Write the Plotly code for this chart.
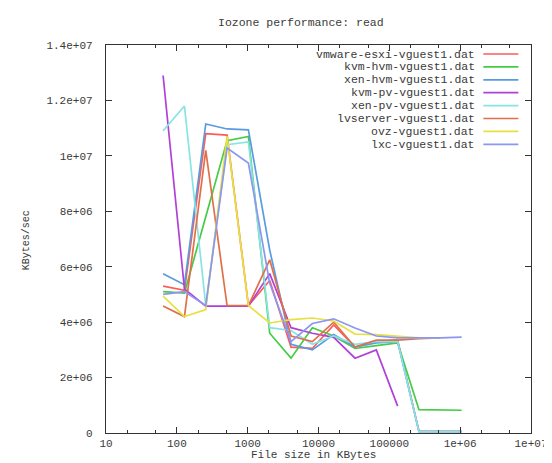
import plotly.graph_objects as go

# ---------------- data ----------------
file_size_kb = [64, 128, 256, 512, 1024, 2048, 4096, 8192, 16384, 32768,
                65536, 131072, 262144, 524288, 1048576]

series_names = ["vmware-esxi-vguest1.dat", "kvm-hvm-vguest1.dat", "xen-hvm-vguest1.dat",
                "kvm-pv-vguest1.dat", "xen-pv-vguest1.dat", "lvserver-vguest1.dat",
                "ovz-vguest1.dat", "lxc-vguest1.dat"]

vmware_esxi = [5.30e6, 5.15e6, 10.80e6, 10.75e6, 4.60e6, 5.50e6, 3.10e6, 3.05e6, 3.90e6, 3.10e6,
               3.30e6, 3.35e6, 0.06e6, 0.06e6, 0.06e6]
kvm_hvm = [5.10e6, 5.05e6, 7.80e6, 10.55e6, 10.70e6, 3.60e6, 2.70e6, 3.80e6, 3.50e6, 3.05e6,
           3.15e6, 3.25e6, 0.84e6, 0.84e6, 0.82e6]
xen_hvm = [5.75e6, 5.35e6, 11.15e6, 10.97e6, 10.94e6, 6.60e6, 3.20e6, 3.00e6, 3.55e6, 3.10e6,
           3.25e6, 3.30e6, 0.05e6, 0.05e6, 0.05e6]
kvm_pv = [12.90e6, 5.20e6, 4.58e6, 4.58e6, 4.58e6, 5.75e6, 3.80e6, 3.60e6, 3.45e6, 2.70e6,
          3.00e6, 0.97e6, None, None, None]
xen_pv = [10.90e6, 11.80e6, 4.60e6, 10.40e6, 10.50e6, 3.80e6, 3.70e6, 3.20e6, 3.50e6, 3.20e6,
          3.30e6, 3.30e6, 0.05e6, 0.05e6, 0.05e6]
lvserver = [4.58e6, 4.20e6, 10.20e6, 4.60e6, 4.60e6, 6.25e6, 3.50e6, 3.30e6, 4.00e6, 3.10e6,
            3.35e6, 3.35e6, 3.40e6, 3.43e6, None]
ovz = [4.94e6, 4.20e6, 4.45e6, 10.70e6, 4.60e6, 3.97e6, 4.09e6, 4.15e6, 4.04e6, 3.57e6,
       3.55e6, 3.50e6, 3.43e6, 3.43e6, None]
lxc = [5.00e6, 5.10e6, 4.60e6, 10.28e6, 9.74e6, 5.40e6, 3.30e6, 3.95e6, 4.12e6, 3.79e6,
       3.50e6, 3.43e6, 3.43e6, 3.43e6, 3.46e6]

all_series = [vmware_esxi, kvm_hvm, xen_hvm, kvm_pv, xen_pv, lvserver, ovz, lxc]
colors = ["#ff5a5a", "#44cc44", "#5a9be0", "#b040d8", "#88e4e4", "#e0704a", "#e8e040", "#8c96f0"]

y_tick_vals = [0, 2e6, 4e6, 6e6, 8e6, 1e7, 1.2e7, 1.4e7]
y_tick_text = ["0", "2e+06", "4e+06", "6e+06", "8e+06", "1e+07", "1.2e+07", "1.4e+07"]
x_tick_vals = [10, 100, 1000, 10000, 100000, 1e6, 1e7]
x_tick_text = ["10", "100", "1000", "10000", "100000", "1e+06", "1e+07"]

# ---------------- figure ----------------
W, H = 552, 463
L, R, T, B = 98, 17, 37, 38
pw, ph = W - L - R, H - T - B

FONT = "Liberation Mono, DejaVu Sans Mono, monospace"
TXT = "#3a3a3a"

fig = go.Figure()
for name, ys, c in zip(series_names, all_series, colors):
    fig.add_trace(go.Scatter(x=file_size_kb, y=ys, mode="lines", name=name,
                             line=dict(color=c, width=1.7), showlegend=False,
                             connectgaps=False))

def px_x(x):
    return (x - L) / pw

def px_y(y):
    return (H - B - y) / ph

annotations = []
shapes = []
# manual gnuplot-style legend (text right, sample line after)
for i, (name, c) in enumerate(zip(series_names, colors)):
    yy = px_y(46 + i * 12.9)
    annotations.append(dict(x=px_x(478), y=yy, xref="paper", yref="paper", text=name,
                            showarrow=False, xanchor="right", yanchor="middle",
                            borderpad=0,
                            font=dict(family=FONT, size=11.5, color=TXT)))
    shapes.append(dict(type="line", xref="paper", yref="paper", x0=px_x(486), x1=px_x(522),
                       y0=yy, y1=yy, line=dict(color=c, width=1.7)))

annotations.append(dict(x=px_x(298), y=px_y(15), xref="paper", yref="paper",
                        text="Iozone performance: read", showarrow=False,
                        xanchor="center", yanchor="middle", borderpad=0,
                        font=dict(family=FONT, size=11.5, color=TXT)))
annotations.append(dict(x=px_x(311), y=px_y(447), xref="paper", yref="paper",
                        text="File size in KBytes", showarrow=False,
                        xanchor="center", yanchor="middle", borderpad=0,
                        font=dict(family=FONT, size=11, color=TXT)))
annotations.append(dict(x=px_x(16), y=px_y(232), xref="paper", yref="paper",
                        text="KBytes/sec", showarrow=False, textangle=-90,
                        xanchor="center", yanchor="middle", borderpad=0,
                        font=dict(family=FONT, size=10, color=TXT)))

fig.update_layout(
    width=W, height=H,
    margin=dict(l=L, r=R, t=T, b=B),
    paper_bgcolor="white", plot_bgcolor="white",
    annotations=annotations, shapes=shapes,
    showlegend=False,
    xaxis=dict(type="log", range=[1, 7], tickvals=x_tick_vals, ticktext=x_tick_text,
               ticks="inside", ticklen=6, tickcolor="#333", showline=True,
               linecolor="#333", linewidth=1.3, mirror="allticks", showgrid=False,
               zeroline=False, tickfont=dict(family=FONT, size=11, color=TXT),
               minor=dict(ticks="inside", ticklen=3, tickcolor="#333", dtick="D2",
                          showgrid=False)),
    yaxis=dict(range=[0, 1.4e7], tickvals=y_tick_vals, ticktext=y_tick_text,
               ticks="inside", ticklen=6, tickcolor="#333", showline=True,
               linecolor="#333", linewidth=1.3, mirror="allticks", showgrid=False,
               zeroline=False, tickfont=dict(family=FONT, size=11, color=TXT),
               ticklabelstandoff=10),
)

fig.write_html("out.html")
